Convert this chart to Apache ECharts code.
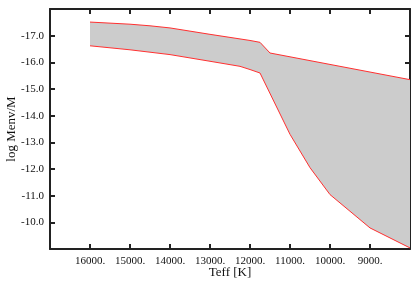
<!DOCTYPE html>
<html>
<head>
<meta charset="utf-8">
<script src="https://cdn.jsdelivr.net/npm/echarts@6/dist/echarts.min.js"></script>
<style>
html,body{margin:0;padding:0;background:#fff;}
#chart{width:420px;height:289px;}
</style>
</head>
<body>
<div id="chart"></div>
<script>
// Upper boundary (thin envelope) and lower boundary (thick envelope)
const upperTeff = [16000, 15000, 14500, 14000, 13000, 12000, 11750, 11500, 8000];
const upperLogM = [-17.51, -17.43, -17.37, -17.29, -17.05, -16.82, -16.75, -16.35, -15.35];
const lowerTeff = [16000, 15000, 14000, 13000, 12250, 12000, 11750, 11000, 10500, 10000, 9000, 8000];
const lowerLogM = [-16.62, -16.47, -16.29, -16.04, -15.85, -15.73, -15.60, -13.30, -12.05, -11.04, -9.79, -9.04];
const xTicks = [16000, 15000, 14000, 13000, 12000, 11000, 10000, 9000];
const yTicks = [-17, -16, -15, -14, -13, -12, -11, -10];

const upperData = upperTeff.map((t, i) => [t, upperLogM[i]]);
const lowerData = lowerTeff.map((t, i) => [t, lowerLogM[i]]);

const font = 'Liberation Serif';
const axisCol = '#222';
const baseX = {
  type: 'value', min: 8000, max: 17000, interval: 1000, inverse: true,
  axisLine: {show: true, onZero: false, lineStyle: {color: axisCol, width: 2}},
  axisTick: {show: true, inside: true, length: 5, lineStyle: {color: axisCol, width: 2}},
  splitLine: {show: false}
};
const baseY = {
  type: 'value', min: -18, max: -9, interval: 1, inverse: true,
  axisLine: {show: true, onZero: false, lineStyle: {color: axisCol, width: 2}},
  axisTick: {show: true, inside: true, length: 5, lineStyle: {color: axisCol, width: 2}},
  splitLine: {show: false}
};

const chart = echarts.init(document.getElementById('chart'), null, {renderer: 'canvas'});
chart.setOption({
  backgroundColor: '#fff',
  animation: false,
  grid: {left: 50, right: 10, top: 9, bottom: 40, containLabel: false, outerBoundsMode: 'none'},
  xAxis: [
    Object.assign({}, baseX, {
      position: 'bottom',
      name: 'Teff [K]', nameLocation: 'middle', nameGap: 17, nameMoveOverlap: false,
      nameTextStyle: {fontFamily: font, fontSize: 13, color: '#111'},
      axisLabel: {
        show: true, margin: 7, fontFamily: font, fontSize: 11, color: '#111',
        showMinLabel: false, showMaxLabel: false,
        formatter: v => xTicks.includes(v) ? v + '.' : ''
      }
    }),
    Object.assign({}, baseX, {position: 'top', axisLabel: {show: false}})
  ],
  yAxis: [
    Object.assign({}, baseY, {
      position: 'left',
      name: 'log Menv/M', nameLocation: 'middle', nameGap: 32, nameMoveOverlap: false,
      nameTextStyle: {fontFamily: font, fontSize: 13, color: '#111'},
      axisLabel: {
        show: true, margin: 6, fontFamily: font, fontSize: 11, color: '#111',
        showMinLabel: false, showMaxLabel: false,
        formatter: v => yTicks.includes(v) ? v.toFixed(1) : ''
      }
    }),
    Object.assign({}, baseY, {position: 'right', axisLabel: {show: false}})
  ],
  series: [
    {
      type: 'custom',
      xAxisIndex: 0, yAxisIndex: 0,
      data: [[12000, -13]],
      silent: true,
      z: 1,
      renderItem: function (params, api) {
        const pts = [];
        upperData.forEach(p => pts.push(api.coord(p)));
        for (let i = lowerData.length - 1; i >= 0; i--) pts.push(api.coord(lowerData[i]));
        return {type: 'polygon', shape: {points: pts}, style: {fill: '#cccccc', stroke: null}};
      }
    },
    {
      type: 'line', data: upperData, showSymbol: false, symbol: 'none', z: 3,
      lineStyle: {color: '#ff3030', width: 1}
    },
    {
      type: 'line', data: lowerData, showSymbol: false, symbol: 'none', z: 3,
      lineStyle: {color: '#ff3030', width: 1}
    }
  ]
});
</script>
</body>
</html>
